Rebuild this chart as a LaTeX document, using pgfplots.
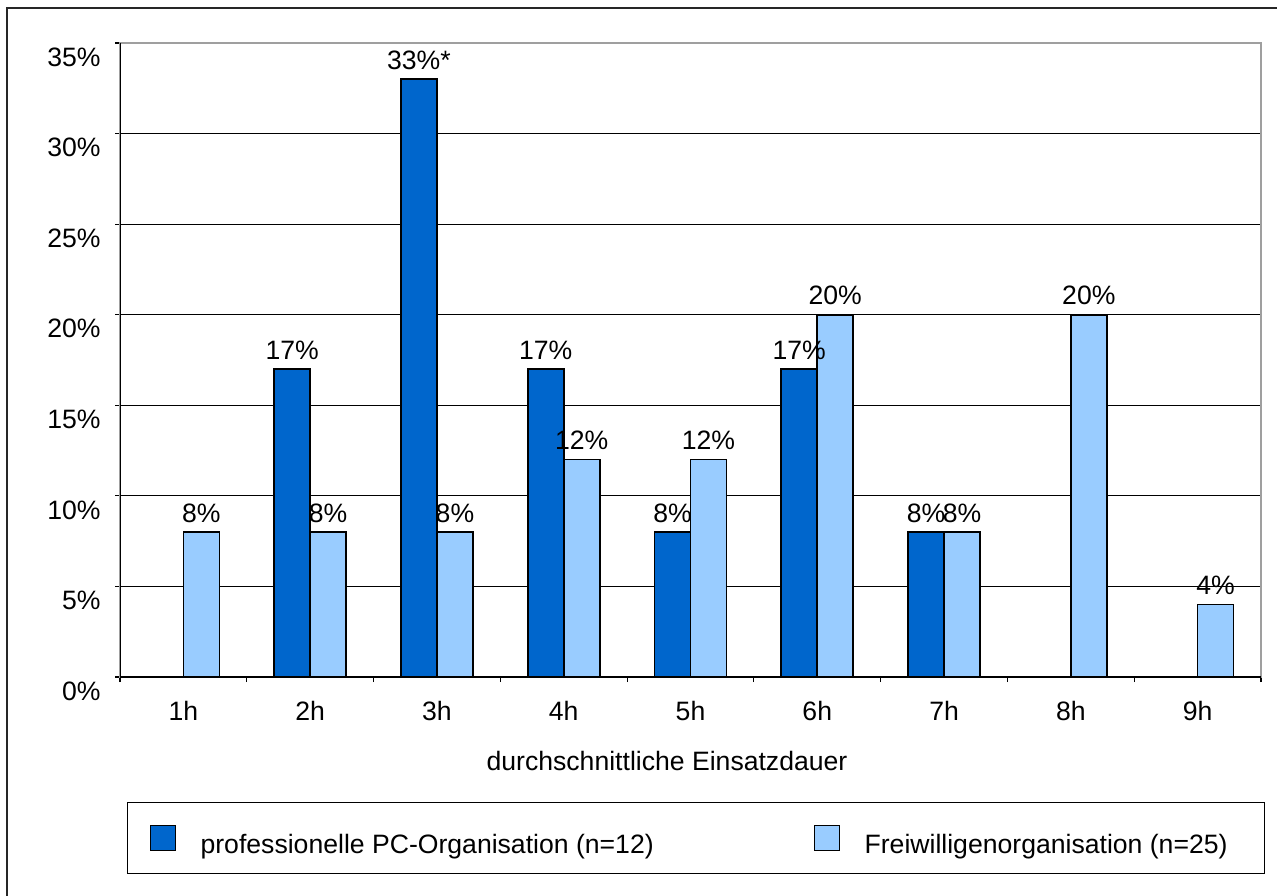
\documentclass[border=0pt]{standalone}
\usepackage{pgfplots}
\pgfplotsset{compat=1.18}
\usepackage{fontspec}
\setmainfont{Liberation Sans}
\definecolor{profblue}{HTML}{0066CC}
\definecolor{freiblue}{HTML}{99CCFF}
\newcommand\cf{\fontsize{13.3}{16}\selectfont}

\begin{document}
\begin{tikzpicture}[font=\cf]
\useasboundingbox (0,0) rectangle (638.5pt,-447.5pt);
\clip (0,0) rectangle (638.5pt,-447.5pt);
% outer chart frame
\draw[line width=1pt, black!85] (3.25pt,-4pt) rectangle (660pt,-470pt);
\begin{axis}[
  at={(60pt,-338.5pt)}, anchor=south west,
  scale only axis, width=570.5pt, height=317pt,
  xmin=0.5, xmax=9.5, ymin=0, ymax=35,
  ybar=0pt, bar width=18pt,
  xtick={1,...,9},
  xticklabels={1h,2h,3h,4h,5h,6h,7h,8h,9h},
  minor xtick={0.5,1.5,...,9.5},
  major x tick style={draw=none},
  minor x tick style={black, line width=0.6pt},
  xtick pos=bottom, ytick pos=left,
  ytick={0,5,...,35},
  yticklabel={\pgfmathprintnumber{\tick}\%},
  /pgf/number format/assume math mode=true,
  y tick style={black, line width=0.6pt},
  tick align=outside,
  major tick length=2.5pt, minor tick length=2.5pt,
  ymajorgrids,
  major grid style={black, line width=0.5pt},
  axis line style={draw=gray!75, line width=1pt},
  ticklabel style={font=\cf},
  yticklabel style={anchor=east, inner sep=0pt, xshift=-7pt, yshift=-7pt},
  xticklabel style={anchor=base, inner sep=0pt, yshift=-19pt},
  xlabel={durchschnittliche Einsatzdauer},
  xlabel style={font=\cf, at={(axis description cs:0.4794,-0.1467)}, anchor=base, inner sep=0pt},
  point meta=explicit symbolic,
  nodes near coords,
  nodes near coords style={font=\cf, anchor=south, inner sep=0pt, yshift=4.5pt},
  legend columns=2,
  legend style={font=\cf, at={(axis description cs:0.00613,-0.19716)},
    anchor=north west, draw=black, line width=0.6pt, fill=white,
    inner sep=0pt, column sep=0pt,
    cells={anchor=base west},
    nodes={inner sep=0pt, text depth=0pt}},
]
\addplot[fill=profblue, draw=black, line width=0.8pt,
  legend image code/.code={%
    \path[draw=none, fill=none] (0pt,-10pt) rectangle (36.5pt,25.5pt);
    \draw[fill=profblue, draw=black, line width=0.8pt] (11.5pt,1.5pt) rectangle (24pt,14pt);}]
  coordinates {
  (2,17) [17\%] (3,33) [33\%*] (4,17) [17\%]
  (5,8) [8\%] (6,17) [17\%] (7,8) [8\%]};
\addlegendentry{\makebox[295.5pt][l]{professionelle PC-Organisation (n=12)}}
\addplot[fill=freiblue, draw=black, line width=0.8pt,
  legend image code/.code={%
    \path[draw=none, fill=none] (0pt,-10pt) rectangle (36.5pt,25.5pt);
    \draw[fill=freiblue, draw=black, line width=0.8pt] (11.5pt,1.5pt) rectangle (24pt,14pt);}]
  coordinates {
  (1,8) [8\%] (2,8) [8\%] (3,8) [8\%] (4,12) [12\%] (5,12) [12\%]
  (6,20) [20\%] (7,8) [8\%] (8,20) [20\%] (9,4) [4\%]};
\addlegendentry{\makebox[200pt][l]{Freiwilligenorganisation (n=25)}}
\draw[black, line width=0.8pt] (rel axis cs:0,1) -- (rel axis cs:0,0) -- (rel axis cs:1,0);
\end{axis}
\end{tikzpicture}
\end{document}
